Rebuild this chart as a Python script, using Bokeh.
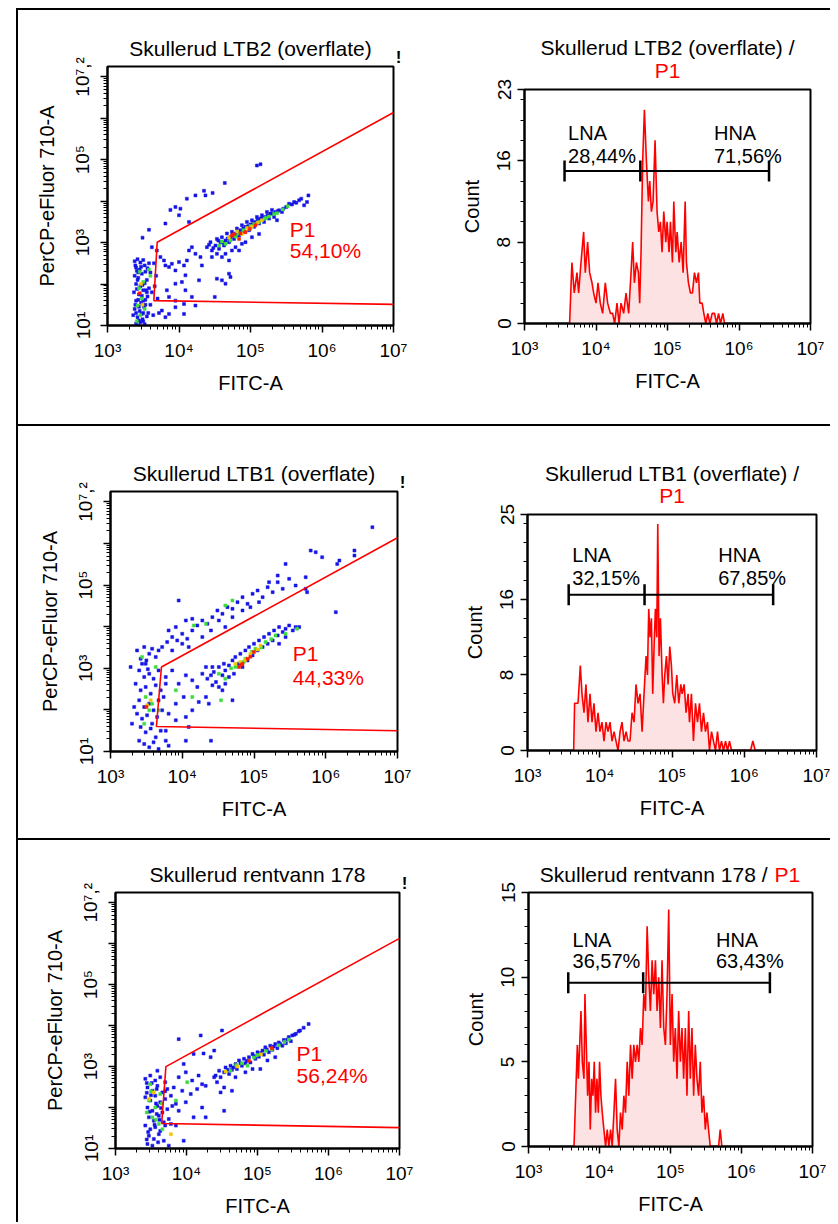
import math
from bokeh.plotting import figure
from bokeh.layouts import row, column
from bokeh.models import Div, FixedTicker, Label, Title, Range1d
from bokeh.embed import file_html
from bokeh.resources import INLINE

FONT = "Liberation Sans"

# ---------------- axes ----------------
X_LOG_RANGE = (3.0, 7.0)
Y_LOG_RANGE = (1.0, 7.25)
X_TICK_LABELS = {1000: "10³", 10000: "10⁴", 100000: "10⁵", 1000000: "10⁶", 10000000: "10⁷"}
Y_TICK_LABELS = {10: "10¹", 100: "", 1000: "10³", 10000: "", 100000: "10⁵", 1000000: "", 10000000: "10⁷,²"}

# ---------------- scatter panels (log10 FITC-A, log10 PerCP) ----------------
S1_TITLE = "Skullerud LTB2 (overflate)"
S1_PCT = "54,10%"
S1_GATE = [(7.0, 6.14), (3.695, 3.01), (3.648, 1.60), (7.0, 1.51)]
S1_BLUE = [
    (3.38, 2.55), (3.42, 2.60), (3.46, 2.52), (3.50, 2.58), (3.40, 2.40), (3.45, 2.35), (3.52, 2.45), (3.56, 2.38),
    (3.38, 2.20), (3.43, 2.15), (3.48, 2.25), (3.55, 2.10), (3.60, 2.28), (3.40, 2.00), (3.46, 1.95), (3.52, 2.02),
    (3.58, 1.90), (3.37, 1.80), (3.44, 1.75), (3.50, 1.85), (3.56, 1.70), (3.62, 1.80), (3.40, 1.60), (3.47, 1.55),
    (3.53, 1.62), (3.60, 1.50), (3.38, 1.40), (3.45, 1.35), (3.51, 1.45), (3.57, 1.30), (3.42, 1.20), (3.49, 1.15),
    (3.55, 1.22), (3.40, 1.05), (3.46, 1.08), (3.52, 1.03), (3.65, 2.50), (3.68, 2.20), (3.66, 1.95), (3.70, 1.65),
    (3.64, 1.25), (3.72, 1.30), (3.39, 2.45), (3.43, 2.28), (3.41, 1.88), (3.48, 1.72), (3.39, 1.50), (3.44, 1.12),
    (3.54, 1.85), (3.58, 2.50), (3.36, 1.25), (3.50, 1.30), (3.41, 2.32), (3.47, 2.42), (3.53, 2.30), (3.42, 2.10),
    (3.49, 1.98), (3.55, 1.80), (3.43, 1.62), (3.50, 1.60), (3.44, 1.45), (3.53, 1.50), (3.40, 1.30), (3.48, 1.28),
    (3.43, 1.00), (3.50, 1.10),
    (3.74, 2.65), (3.79, 2.57), (3.81, 2.45), (3.86, 2.41), (3.90, 2.49), (3.95, 2.33), (4.00, 2.53), (4.07, 2.45),
    (4.11, 2.57), (4.14, 2.81), (4.18, 2.89), (4.23, 2.73), (4.30, 2.65), (4.32, 2.45), (4.09, 2.21), (4.04, 2.05),
    (3.95, 2.01), (3.83, 1.85), (3.86, 1.69), (3.95, 1.60), (4.07, 1.52), (4.18, 1.69), (4.23, 1.48), (4.09, 1.85),
    (4.28, 2.09), (4.53, 2.13), (4.60, 2.09), (4.65, 2.01), (4.70, 2.25), (4.72, 2.17), (4.50, 1.69), (3.76, 1.36),
    (3.86, 1.28), (4.07, 1.28), (3.81, 1.20), (3.95, 1.44),
    (3.58, 3.31), (3.49, 3.12), (3.81, 3.46), (3.88, 3.79), (3.95, 3.86), (4.02, 3.82), (4.11, 4.06), (4.23, 4.14),
    (4.35, 4.25), (4.37, 4.14), (4.47, 4.20), (4.64, 4.44), (5.09, 4.86), (5.14, 4.89), (4.14, 3.50), (4.00, 3.66),
    (3.69, 2.81), (3.62, 2.89),
    (4.39, 2.89), (4.44, 3.01), (4.46, 2.81), (4.51, 2.93), (4.53, 3.09), (4.56, 2.85), (4.58, 3.01), (4.60, 3.13),
    (4.63, 2.93), (4.65, 3.05), (4.67, 3.22), (4.70, 3.01), (4.72, 3.13), (4.74, 3.26), (4.77, 3.09), (4.79, 3.22),
    (4.81, 3.34), (4.84, 3.17), (4.86, 3.30), (4.88, 3.42), (4.91, 3.26), (4.93, 3.38), (4.95, 3.50), (4.98, 3.30),
    (5.00, 3.44), (5.02, 3.54), (5.05, 3.38), (5.07, 3.50), (5.09, 3.62), (5.12, 3.46), (5.14, 3.58), (5.16, 3.66),
    (5.19, 3.50), (5.21, 3.62), (5.23, 3.74), (5.26, 3.58), (5.28, 3.70), (5.30, 3.79), (5.33, 3.62), (5.35, 3.74),
    (5.37, 3.54), (5.40, 3.78), (5.44, 3.74), (5.54, 3.94), (5.61, 3.98), (5.68, 4.02), (5.75, 3.90), (5.79, 3.98),
    (5.81, 4.14), (4.42, 2.95), (4.48, 2.87), (4.55, 3.05), (4.62, 3.00), (4.68, 3.10), (4.75, 3.18), (4.82, 3.24),
    (4.90, 3.34), (4.97, 3.40), (5.04, 3.48), (5.10, 3.55), (5.17, 3.60), (5.24, 3.66), (5.31, 3.70), (5.38, 3.76),
    (5.46, 3.82), (5.50, 3.86), (5.58, 3.92), (5.64, 3.96), (5.71, 4.06),
    (4.65, 2.73), (4.60, 2.65), (4.70, 2.57), (4.74, 2.81), (4.79, 2.89), (4.84, 2.81), (4.46, 2.65), (4.53, 2.73),
    (4.88, 2.97), (4.93, 3.01), (5.02, 3.13), (5.12, 3.21),
]
S1_GREEN = [(3.45, 2.30), (3.50, 2.05), (3.44, 1.90), (3.48, 1.65), (3.52, 1.40), (3.46, 1.25), (4.65, 2.97),
            (4.79, 3.15), (4.98, 3.33), (5.12, 3.50), (5.26, 3.63), (5.37, 3.71), (4.56, 2.93), (3.60, 2.20),
            (3.41, 1.10), (4.72, 3.05), (5.05, 3.45), (5.20, 3.58), (3.42, 1.48), (3.58, 2.35), (4.60, 3.03),
            (4.90, 3.30), (5.00, 3.40), (5.22, 3.60), (5.33, 3.69), (5.45, 3.80), (5.52, 3.88), (4.83, 3.22)]
S1_YELLOW = [(3.47, 2.00), (3.49, 1.50), (4.70, 3.12), (4.88, 3.21), (5.02, 3.38), (5.16, 3.54), (4.81, 3.27),
             (4.95, 3.35), (5.10, 3.48)]
S1_RED = [(4.74, 3.17), (4.84, 3.09), (4.93, 3.25), (5.07, 3.42), (3.45, 1.78), (4.77, 3.20), (4.86, 3.22),
          (4.99, 3.33)]

S2_TITLE = "Skullerud LTB1 (overflate)"
S2_PCT = "44,33%"
S2_GATE = [(7.0, 6.14), (3.71, 3.03), (3.64, 1.60), (7.0, 1.50)]
S2_BLUE = [
    (3.28, 3.03), (3.37, 3.43), (3.42, 3.23), (3.47, 3.51), (3.49, 3.11), (3.54, 3.35), (3.58, 3.47), (3.63, 3.27),
    (3.67, 3.43), (3.40, 2.95), (3.47, 2.79), (3.54, 2.87), (3.60, 2.75), (3.67, 2.95), (3.35, 2.63), (3.42, 2.47),
    (3.49, 2.55), (3.56, 2.39), (3.63, 2.59), (3.70, 2.47), (3.40, 2.23), (3.47, 2.07), (3.54, 2.15), (3.60, 1.99),
    (3.67, 2.23), (3.37, 1.91), (3.44, 1.79), (3.51, 1.87), (3.58, 1.67), (3.65, 1.83), (3.42, 1.59), (3.49, 1.46),
    (3.56, 1.55), (3.63, 1.34), (3.70, 1.50), (3.40, 1.26), (3.47, 1.18), (3.54, 1.10), (3.60, 1.22), (3.67, 1.06),
    (3.77, 1.26), (3.81, 1.14), (3.30, 1.67), (3.33, 2.07), (3.72, 1.99), (3.74, 2.31), (3.77, 2.63), (3.50, 3.19),
    (3.44, 3.11), (3.52, 2.98),
    (3.72, 3.51), (3.79, 3.63), (3.86, 3.75), (3.93, 3.67), (4.00, 3.83), (4.07, 3.71), (4.14, 3.91), (4.21, 4.03),
    (4.28, 4.15), (4.35, 4.07), (4.42, 4.23), (4.49, 4.39), (4.56, 4.31), (4.63, 4.47), (4.70, 4.43), (4.77, 4.59),
    (4.84, 4.71), (4.91, 4.55), (4.98, 4.79), (5.05, 4.87), (5.12, 4.71), (5.19, 4.95), (5.26, 4.83), (5.33, 5.07),
    (5.40, 4.91), (5.49, 5.15), (5.58, 4.99), (5.72, 5.19), (3.95, 4.63), (4.05, 4.15), (4.14, 4.19), (3.81, 3.91),
    (3.91, 3.99), (4.00, 3.59), (3.86, 3.43), (4.09, 3.51), (4.28, 3.75), (4.40, 3.91), (4.51, 4.15), (4.60, 3.99),
    (4.70, 4.23), (4.84, 4.39), (4.95, 4.47), (5.07, 4.59), (5.21, 5.07), (5.33, 5.23), (5.44, 5.51), (5.72, 4.91),
    (5.79, 5.83), (5.86, 5.79), (5.95, 5.67), (6.16, 5.51), (6.19, 5.59), (6.40, 5.83), (6.40, 5.71), (6.65, 6.39),
    (6.14, 4.35), (5.74, 4.83),
    (3.77, 2.79), (3.86, 2.95), (3.95, 2.63), (4.05, 2.83), (4.14, 2.71), (4.21, 2.55), (4.28, 2.87), (4.33, 2.31),
    (4.42, 3.03), (4.02, 2.31), (3.91, 2.15), (3.81, 1.91), (3.91, 1.75), (4.05, 1.83), (4.14, 1.99), (4.23, 2.19),
    (4.37, 2.15), (4.09, 1.59), (4.05, 1.26), (4.40, 1.26), (4.70, 2.23), (4.56, 2.47), (4.65, 2.79), (3.77, 1.50),
    (4.35, 2.75), (4.40, 2.83), (4.44, 2.91), (4.47, 2.67), (4.51, 3.03), (4.56, 2.83), (4.58, 3.11), (4.60, 2.95),
    (4.65, 3.07), (4.70, 3.19), (4.72, 2.87), (4.74, 3.27), (4.79, 3.11), (4.81, 3.35), (4.84, 3.03), (4.88, 3.43),
    (4.91, 3.19), (4.93, 3.51), (4.98, 3.31), (5.00, 3.59), (5.05, 3.43), (5.07, 3.67), (5.12, 3.51), (5.14, 3.75),
    (5.19, 3.59), (5.21, 3.83), (5.26, 3.67), (5.28, 3.91), (5.33, 3.79), (5.35, 3.99), (5.40, 3.87), (5.44, 3.95),
    (5.49, 4.03), (5.54, 3.91), (5.58, 3.99), (5.63, 3.99), (5.35, 3.59), (5.44, 3.75), (4.60, 2.63), (4.51, 2.55),
    (4.42, 2.59), (4.33, 3.03),
]
S2_GREEN = [(4.74, 3.03), (4.88, 3.23), (5.02, 3.47), (5.16, 3.63), (5.30, 3.79), (4.51, 2.87), (4.60, 2.75),
            (5.44, 3.83), (5.60, 3.95), (3.49, 2.31), (3.54, 1.99), (3.47, 1.67), (3.58, 2.15), (3.63, 3.03),
            (3.44, 3.27), (3.67, 1.99), (3.91, 2.47), (4.14, 2.31), (4.54, 2.23), (4.33, 4.07), (4.60, 4.51),
            (4.16, 4.03), (4.70, 4.63), (4.86, 3.16), (4.97, 3.40), (5.10, 3.50), (5.24, 3.70), (4.68, 3.00)]
S2_YELLOW = [(4.81, 3.15), (4.95, 3.35), (5.09, 3.55), (4.74, 3.11), (3.51, 2.11), (3.56, 2.23), (4.88, 3.20),
             (5.05, 3.45)]
S2_RED = [(4.84, 3.11), (4.91, 3.23), (5.00, 3.39), (4.79, 3.03), (3.50, 2.07), (4.82, 3.08), (4.95, 3.28)]

S3_TITLE = "Skullerud rentvann 178"
S3_PCT = "56,24%"
S3_GATE = [(7.0, 6.13), (3.71, 3.00), (3.65, 1.61), (7.0, 1.51)]
S3_BLUE = [
    (3.42, 2.70), (3.49, 2.78), (3.56, 2.66), (3.63, 2.74), (3.70, 2.62), (3.45, 2.49), (3.52, 2.41), (3.59, 2.53),
    (3.66, 2.37), (3.73, 2.45), (3.42, 2.25), (3.49, 2.17), (3.56, 2.29), (3.63, 2.13), (3.70, 2.21), (3.78, 2.29),
    (3.45, 2.00), (3.52, 1.92), (3.59, 2.04), (3.66, 1.88), (3.73, 1.96), (3.80, 2.04), (3.47, 1.76), (3.54, 1.68),
    (3.61, 1.80), (3.68, 1.64), (3.75, 1.72), (3.42, 1.56), (3.49, 1.47), (3.56, 1.52), (3.63, 1.43), (3.70, 1.56),
    (3.78, 1.60), (3.47, 1.31), (3.54, 1.23), (3.61, 1.35), (3.68, 1.19), (3.45, 1.11), (3.52, 1.07), (3.75, 1.07),
    (3.85, 1.56), (3.96, 1.19), (3.59, 2.90), (3.82, 2.49), (3.85, 2.09), (3.44, 2.36), (3.51, 2.60), (3.58, 1.84),
    (3.46, 1.40), (3.64, 1.99), (3.44, 2.60), (3.50, 2.30), (3.57, 2.10), (3.48, 1.90), (3.55, 1.58), (3.62, 1.70),
    (3.44, 1.22), (3.60, 1.15), (3.70, 2.40), (3.58, 2.45),
    (3.89, 2.74), (3.99, 2.86), (4.08, 2.66), (4.17, 2.78), (4.22, 2.57), (3.94, 2.41), (4.06, 2.33), (4.15, 2.45),
    (4.27, 2.53), (4.39, 2.74), (4.43, 2.62), (4.48, 2.37), (4.53, 2.49), (4.22, 2.00), (4.27, 1.76), (3.99, 2.13),
    (3.89, 1.92), (4.10, 1.76), (4.53, 1.92), (4.64, 2.41), (3.96, 3.06), (4.10, 3.31), (4.34, 3.23),
    (4.20, 3.76), (4.50, 3.88), (3.89, 3.67), (4.39, 3.39), (4.24, 3.32),
    (4.41, 2.78), (4.46, 2.90), (4.48, 2.74), (4.53, 2.86), (4.55, 2.98), (4.60, 2.82), (4.62, 3.02), (4.64, 2.92),
    (4.69, 3.06), (4.71, 2.94), (4.74, 3.15), (4.78, 3.02), (4.81, 3.19), (4.83, 3.08), (4.88, 3.23), (4.90, 3.10),
    (4.93, 3.31), (4.97, 3.19), (5.00, 3.35), (5.02, 3.24), (5.07, 3.39), (5.09, 3.29), (5.11, 3.47), (5.16, 3.35),
    (5.18, 3.51), (5.21, 3.41), (5.25, 3.55), (5.28, 3.45), (5.30, 3.59), (5.35, 3.51), (5.37, 3.65), (5.40, 3.57),
    (5.44, 3.72), (5.47, 3.62), (5.49, 3.76), (5.54, 3.80), (5.58, 3.86), (5.72, 4.04), (5.04, 2.94), (4.83, 2.86),
    (4.69, 2.74), (4.93, 2.94), (5.25, 3.23), (5.14, 3.15), (4.58, 2.92), (4.66, 2.98), (4.76, 3.08), (4.85, 3.14),
    (4.95, 3.26), (5.05, 3.33), (5.13, 3.42), (5.23, 3.49), (5.32, 3.55), (5.42, 3.66), (5.52, 3.78), (5.60, 3.88),
    (5.65, 3.95),
]
S3_GREEN = [(3.49, 2.57), (3.56, 2.00), (3.52, 1.76), (3.63, 2.33), (3.47, 2.17), (3.61, 1.60), (3.85, 2.17),
            (4.01, 2.62), (3.66, 1.47), (4.62, 2.90), (4.78, 3.08), (4.95, 3.22), (5.12, 3.38), (5.30, 3.52),
            (5.44, 3.66), (4.86, 3.02), (4.70, 3.04), (5.00, 3.28), (5.20, 3.42), (5.38, 3.60), (3.50, 2.40),
            (3.57, 1.70), (3.44, 1.88), (3.65, 2.10)]
S3_YELLOW = [(3.54, 2.37), (3.78, 1.35), (3.47, 2.21), (4.72, 3.00), (5.05, 3.30), (4.55, 2.88)]
S3_RED = [(4.88, 3.14), (5.20, 3.45)]

# P1 label anchor (log10 x, log10 y of first and second line baselines)
S1_P1_POS = (5.55, 3.31, 2.81)
S2_P1_POS = (5.54, 3.35, 2.79)
S3_P1_POS = (5.55, 3.32, 2.79)

# ---------------- histograms (log10 FITC-A, count) ----------------
H1_TITLE = "Skullerud LTB2 (overflate) /"
H1_YMAX = 23
H1_YTICKS = [0, 8, 16, 23]
H1_LOGX = [3.631, 3.663, 3.696, 3.734, 3.757, 3.790, 3.827, 3.850, 3.883, 3.911,
           3.944, 3.967, 4.000, 4.028, 4.060, 4.093, 4.130, 4.163, 4.201, 4.233,
           4.261, 4.294, 4.322, 4.350, 4.387, 4.420, 4.457, 4.490, 4.513, 4.537,
           4.565, 4.593, 4.611, 4.630, 4.653, 4.677, 4.705, 4.733, 4.752, 4.775,
           4.798, 4.826, 4.854, 4.878, 4.901, 4.924, 4.948, 4.976, 4.994, 5.022,
           5.041, 5.069, 5.088, 5.116, 5.135, 5.163, 5.191, 5.219, 5.247, 5.265,
           5.293, 5.321, 5.349, 5.377, 5.405, 5.433, 5.452, 5.485, 5.508, 5.536,
           5.564, 5.592, 5.625, 5.658, 5.686, 5.714, 5.742, 5.774, 5.798]
H1_COUNT = [0, 6, 3, 5, 3, 6, 9, 5, 8, 5,
            4, 3, 2, 4, 2, 1, 4, 2, 1, 1,
            0, 2, 0, 2, 1, 3, 1, 5, 8, 4,
            6, 5, 2, 7, 16, 21, 16, 12, 14, 11,
            12, 18, 11, 9, 10, 7, 11, 8, 10, 7,
            10, 6, 12, 7, 9, 6, 8, 5, 12, 6,
            4, 3, 3, 5, 4, 5, 2, 2, 1, 0,
            1, 0, 1, 1, 0, 1, 0, 1, 0]
H1_GATES = (3.56, 4.62, 6.42, 15.0)
H1_LNA = ("LNA", "28,44%")
H1_HNA = ("HNA", "71,56%")
H1_TEXT_POS = (3.61, 5.65, 18.74, 16.45)

H2_TITLE = "Skullerud LTB1 (overflate) /"
H2_YMAX = 25
H2_YTICKS = [0, 8, 16, 25]
H2_LOGX = [3.639, 3.652, 3.699, 3.731, 3.754, 3.782, 3.809, 3.837, 3.865, 3.893,
           3.920, 3.948, 3.976, 4.003, 4.031, 4.059, 4.087, 4.114, 4.142, 4.170,
           4.198, 4.225, 4.253, 4.281, 4.308, 4.336, 4.364, 4.392, 4.419, 4.447,
           4.475, 4.502, 4.530, 4.558, 4.586, 4.613, 4.641, 4.660, 4.678, 4.696,
           4.715, 4.733, 4.752, 4.770, 4.789, 4.803, 4.821, 4.840, 4.863, 4.881,
           4.900, 4.923, 4.946, 4.969, 4.992, 5.011, 5.038, 5.066, 5.094, 5.122,
           5.140, 5.168, 5.195, 5.223, 5.242, 5.269, 5.297, 5.325, 5.353, 5.380,
           5.408, 5.436, 5.463, 5.491, 5.519, 5.547, 5.574, 5.602, 5.630, 5.657,
           5.685, 5.713, 5.741, 5.768, 5.796, 5.824, 6.087, 6.119, 6.152]
H2_COUNT = [0, 5, 5, 9, 6, 4, 7, 3, 6, 3,
            5, 2, 4, 2, 3, 1, 3, 2, 3, 1,
            2, 1, 0, 2, 3, 1, 2, 1, 1, 4,
            3, 7, 5, 6, 2, 6, 10, 8, 15, 12,
            14, 6, 11, 15, 12, 24, 10, 14, 8, 5,
            8, 10, 7, 11, 9, 6, 5, 8, 5, 7,
            6, 7, 4, 6, 3, 6, 1, 5, 3, 5,
            2, 4, 2, 3, 0, 2, 1, 0, 2, 0,
            1, 0, 1, 0, 1, 0, 0, 1, 0]
H2_GATES = (3.57, 4.62, 6.40, 16.5)
H2_LNA = ("LNA", "32,15%")
H2_HNA = ("HNA", "67,85%")
H2_TEXT_POS = (3.62, 5.64, 20.7, 18.3)

H3_TITLE = "Skullerud rentvann 178 /"
H3_YMAX = 15
H3_YTICKS = [0, 5, 10, 15]
H3_LOGX = [3.641, 3.688, 3.702, 3.721, 3.739, 3.758, 3.781, 3.795, 3.814, 3.833,
           3.852, 3.870, 3.889, 3.908, 3.926, 3.945, 3.964, 3.983, 4.001, 4.020,
           4.039, 4.062, 4.086, 4.109, 4.132, 4.156, 4.179, 4.203, 4.226, 4.249,
           4.273, 4.296, 4.320, 4.343, 4.366, 4.390, 4.413, 4.437, 4.460, 4.483,
           4.507, 4.530, 4.554, 4.577, 4.600, 4.624, 4.647, 4.671, 4.694, 4.717,
           4.741, 4.764, 4.788, 4.811, 4.834, 4.858, 4.881, 4.905, 4.928, 4.951,
           4.975, 4.998, 5.022, 5.045, 5.068, 5.092, 5.115, 5.139, 5.162, 5.185,
           5.209, 5.232, 5.256, 5.279, 5.302, 5.326, 5.349, 5.373, 5.396, 5.419,
           5.443, 5.466, 5.490, 5.513, 5.536, 5.560, 5.677, 5.700, 5.724]
H3_COUNT = [0, 6, 4, 6, 8, 5, 4, 9, 6, 3,
            5, 1, 4, 3, 5, 2, 4, 2, 5, 3,
            2, 1, 0, 1, 0, 1, 0, 2, 4, 1,
            0, 2, 1, 3, 2, 5, 3, 6, 4, 6,
            5, 6, 5, 7, 6, 9, 8, 13, 10, 8,
            11, 9, 11, 8, 10, 7, 11, 7, 6, 9,
            14, 6, 9, 5, 7, 4, 8, 5, 7, 4,
            7, 3, 8, 4, 7, 3, 6, 4, 3, 5,
            2, 3, 1, 2, 1, 0, 0, 1, 0]
H3_GATES = (3.56, 4.615, 6.40, 9.67)
H3_LNA = ("LNA", "36,57%")
H3_HNA = ("HNA", "63,43%")
H3_TEXT_POS = (3.62, 5.64, 12.2, 10.94)

BLUE, GREEN, YELLOW, RED = "#1414e6", "#3cdc3c", "#f0c800", "#ff1e00"
PINK = "#fce2e2"
TITLE_SIZE = "21px"


def style(p):
    p.grid.visible = False
    p.outline_line_color = "black"
    p.outline_line_width = 2
    p.background_fill_color = "white"
    p.border_fill_color = "white"
    p.title.text_color = "black"
    for ax in p.axis:
        ax.axis_line_color = "black"
        ax.axis_line_width = 2
        ax.major_tick_line_color = "black"
        ax.major_tick_line_width = 1.5
        ax.minor_tick_line_color = "black"
        ax.minor_tick_line_width = 1
        ax.major_tick_in = 0
        ax.major_tick_out = 7
        ax.minor_tick_in = 0
        ax.minor_tick_out = 4
        ax.major_label_text_font = FONT
        ax.major_label_text_font_size = "19px"
        ax.major_label_text_color = "black"
        ax.axis_label_text_font = FONT
        ax.axis_label_text_font_size = "20px"
        ax.axis_label_text_font_style = "normal"
        ax.axis_label_text_color = "black"
        ax.major_label_standoff = 7
    p.xaxis.axis_label_standoff = 8
    p.yaxis.axis_label_standoff = 12
    p.yaxis.major_label_orientation = "vertical"


def log_x_axis(p):
    p.xaxis.ticker = FixedTicker(ticks=[10 ** e for e in range(3, 8)],
                                 minor_ticks=[m * 10 ** e for e in range(3, 7) for m in range(2, 10)])
    p.xaxis.major_label_overrides = X_TICK_LABELS
    p.xaxis.axis_label = "FITC-A"


def ttl(text, color, align, offset, standoff, size=TITLE_SIZE, bold=False):
    return Title(text=text, text_color=color, align=align, offset=offset, standoff=standoff,
                 text_font=FONT, text_font_size=size, text_font_style="bold" if bold else "normal")


def scatter_panel(title, blue, green, yellow, red, gate, p1pos, pct, w, h, L, R, T, B):
    p = figure(width=w, height=h, x_axis_type="log", y_axis_type="log",
               x_range=Range1d(10 ** X_LOG_RANGE[0], 10 ** X_LOG_RANGE[1]),
               y_range=Range1d(10 ** Y_LOG_RANGE[0], 10 ** Y_LOG_RANGE[1]),
               output_backend="svg", toolbar_location=None,
               min_border_left=L, min_border_right=R, min_border_top=T, min_border_bottom=B)
    style(p)
    log_x_axis(p)
    p.yaxis.ticker = FixedTicker(ticks=[10 ** e for e in range(1, 8)],
                                 minor_ticks=[m * 10 ** e for e in range(1, 7) for m in range(2, 10)])
    p.yaxis.major_label_overrides = Y_TICK_LABELS
    p.yaxis.axis_label = "PerCP-eFluor 710-A"
    # title line closest to the frame, then the "!" marker pulled back onto the frame corner
    p.add_layout(ttl(title, "black", "center", 0, 14), "above")
    p.add_layout(ttl("!", "black", "right", -8, -79, size="17px", bold=True), "above")
    for pts, col in ((blue, BLUE), (green, GREEN), (yellow, YELLOW), (red, RED)):
        p.scatter([10 ** a for a, _ in pts], [10 ** b for _, b in pts], marker="square", size=3,
                  fill_color=col, line_color=col, line_width=0.5)
    p.line([10 ** a for a, _ in gate], [10 ** b for _, b in gate], line_color="red", line_width=1.6)
    lx, ly1, ly2 = p1pos
    p.add_layout(Label(x=10 ** lx, y=10 ** ly1, text="P1", text_color="red", text_font=FONT,
                       text_font_size="21px", text_baseline="alphabetic"))
    p.add_layout(Label(x=10 ** lx, y=10 ** ly2, text=pct, text_color="red", text_font=FONT,
                       text_font_size="21px", text_baseline="alphabetic"))
    return p


def hist_panel(title, logx, count, ymax, yticks, minor_step, gates, lna, hna, tpos,
               w, h, L, R, T, B, two_line, s_p1, s_title):
    p = figure(width=w, height=h, x_axis_type="log",
               x_range=Range1d(10 ** X_LOG_RANGE[0], 10 ** X_LOG_RANGE[1]),
               y_range=Range1d(0, ymax),
               output_backend="svg", toolbar_location=None,
               min_border_left=L, min_border_right=R, min_border_top=T, min_border_bottom=B)
    style(p)
    log_x_axis(p)
    minors = []
    v = 0.0
    while v <= ymax + 1e-9:
        minors.append(round(v, 3))
        v += minor_step
    p.yaxis.ticker = FixedTicker(ticks=yticks, minor_ticks=minors)
    p.yaxis.axis_label = "Count"
    xs = [10 ** a for a in logx]
    p.varea(x=xs, y1=[0] * len(xs), y2=count, fill_color=PINK)
    p.line(xs, count, line_color="red", line_width=1.6)
    a, s, b, lvl = gates
    p.segment(x0=[10 ** a], y0=[lvl], x1=[10 ** b], y1=[lvl], line_color="black", line_width=2)
    p.scatter([10 ** a, 10 ** s, 10 ** b], [lvl] * 3, marker="dash", angle=math.pi / 2, size=21,
              line_color="black", line_width=2.5)
    xl, xh, y1, y2 = tpos
    for xx, pair in ((xl, lna), (xh, hna)):
        p.add_layout(Label(x=10 ** xx, y=y1, text=pair[0], text_font=FONT, text_font_size="20px",
                           text_color="black", text_baseline="alphabetic"))
        p.add_layout(Label(x=10 ** xx, y=y2, text=pair[1], text_font=FONT, text_font_size="20px",
                           text_color="black", text_baseline="alphabetic"))
    if two_line:
        p.add_layout(ttl("P1", "red", "center", 0, s_p1), "above")
        p.add_layout(ttl(title, "black", "center", 0, s_title), "above")
    else:
        # one line: red "P1" placed right of the black text, both on the same baseline
        p.add_layout(ttl("P1", "red", "left", 246, s_p1), "above")
        p.add_layout(ttl(title, "black", "right", 45, s_title), "above")
    return p


s1 = scatter_panel(S1_TITLE, S1_BLUE, S1_GREEN, S1_YELLOW, S1_RED, S1_GATE, S1_P1_POS, S1_PCT,
                   402, 414, 89, 27, 56, 99)
h1 = hist_panel(H1_TITLE, H1_LOGX, H1_COUNT, H1_YMAX, H1_YTICKS, 2, H1_GATES, H1_LNA, H1_HNA, H1_TEXT_POS,
                410, 414, 104, 20, 79, 101, True, 15, -19)
s2 = scatter_panel(S2_TITLE, S2_BLUE, S2_GREEN, S2_YELLOW, S2_RED, S2_GATE, S2_P1_POS, S2_PCT,
                   402, 412, 92, 23, 65, 87)
h2 = hist_panel(H2_TITLE, H2_LOGX, H2_COUNT, H2_YMAX, H2_YTICKS, 2, H2_GATES, H2_LNA, H2_HNA, H2_TEXT_POS,
                410, 412, 107, 14, 88, 88, True, 16, -22)
s3 = scatter_panel(S3_TITLE, S3_BLUE, S3_GREEN, S3_YELLOW, S3_RED, S3_GATE, S3_P1_POS, S3_PCT,
                   402, 382, 97, 21, 52, 74)
h3 = hist_panel(H3_TITLE, H3_LOGX, H3_COUNT, H3_YMAX, H3_YTICKS, 1, H3_GATES, H3_LNA, H3_HNA, H3_TEXT_POS,
                410, 382, 108, 18, 52, 76, False, 14, -65)


def bar(w, h):
    return Div(text="", width=w, height=h, margin=0, styles={"background-color": "black"})


def gap(w, h):
    return Div(text="", width=w, height=h, margin=0)


def cell(p):
    return column(p, spacing=0)


grid = column(bar(812, 2), row(cell(s1), cell(h1), spacing=0), bar(812, 2),
              row(cell(s2), cell(h2), spacing=0), bar(812, 2),
              row(cell(s3), cell(h3), spacing=0), spacing=0)
page = column(gap(830, 8), row(gap(16, 1214), bar(2, 1214), grid, spacing=0), spacing=0)

open("out.html", "w").write(file_html(page, INLINE))
